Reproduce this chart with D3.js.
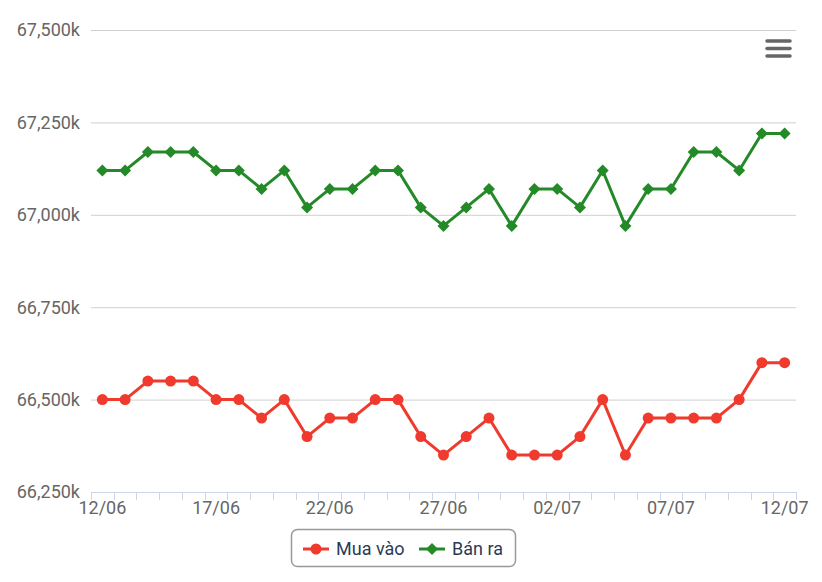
<!DOCTYPE html>
<html><head><meta charset="utf-8">
<script src="https://cdn.jsdelivr.net/npm/d3@7"></script>
<style>body{margin:0;background:#fff;font-family:Roboto,"Noto Sans",sans-serif;}</style>
</head><body><svg id="c" width="822" height="582"></svg>
<script>
const categories = ["12/06","13/06","14/06","15/06","16/06","17/06","18/06","19/06","20/06","21/06","22/06","23/06","24/06","25/06","26/06","27/06","28/06","29/06","30/06","01/07","02/07","03/07","04/07","05/07","06/07","07/07","08/07","09/07","10/07","11/07","12/07"];
const muaVao = [66500,66500,66550,66550,66550,66500,66500,66450,66500,66400,66450,66450,66500,66500,66400,66350,66400,66450,66350,66350,66350,66400,66500,66350,66450,66450,66450,66450,66500,66600,66600];
const banRa = [67120,67120,67170,67170,67170,67120,67120,67070,67120,67020,67070,67070,67120,67120,67020,66970,67020,67070,66970,67070,67070,67020,67120,66970,67070,67070,67170,67170,67120,67220,67220];
const yTicks = [66250,66500,66750,67000,67250,67500];
const seriesNames = ["Mua vào","Bán ra"];
const colors = ["#ef3a2d","#248a28"];

const svg = d3.select("#c");
const L = 91, R = 796, T = 30, B = 492;
const x = d3.scaleBand().domain(categories).range([L, R]);
const y = d3.scaleLinear().domain([66250, 67500]).range([B, T]);
const cx = d => x(d) + x.bandwidth()/2;

// gridlines
svg.append("g").selectAll("line").data(yTicks.slice(1)).join("line")
  .attr("x1", L).attr("x2", R).attr("y1", d => y(d)+0.5).attr("y2", d => y(d)+0.5)
  .attr("stroke", "#d0d0d0").attr("stroke-width", 1);

// y labels
svg.append("g").selectAll("text").data(yTicks).join("text")
  .attr("x", 80).attr("y", d => y(d)).attr("dy", "0.35em").attr("text-anchor", "end")
  .attr("font-size", 18).attr("fill", "#666")
  .text(d => d3.format(",")(d) + "k");

// x axis
const xa = svg.append("g");
xa.append("line").attr("x1", L).attr("x2", R).attr("y1", B+0.5).attr("y2", B+0.5).attr("stroke", "#ccd6eb");
const bounds = categories.map(c => x(c)).concat([R]);
xa.selectAll("line.t").data(bounds).join("line").attr("class","t")
  .attr("x1", d => Math.round(d)+0.5).attr("x2", d => Math.round(d)+0.5)
  .attr("y1", B).attr("y2", B+8).attr("stroke", "#ccd6eb");
xa.selectAll("text").data(categories.filter((c,i) => i % 5 === 0)).join("text")
  .attr("x", d => cx(d)).attr("y", 514).attr("text-anchor", "middle")
  .attr("font-size", 18).attr("fill", "#666").text(d => d);

// series
const data = [muaVao, banRa];
data.forEach((vals, si) => {
  const g = svg.append("g");
  g.append("path").datum(vals)
    .attr("d", d3.line().x((d,i) => cx(categories[i])).y(d => y(d)))
    .attr("fill", "none").attr("stroke", colors[si]).attr("stroke-width", 3).attr("stroke-linejoin","round");
  if (si === 0) {
    g.selectAll("circle").data(vals).join("circle")
      .attr("cx", (d,i) => cx(categories[i])).attr("cy", d => y(d)).attr("r", 5.5).attr("fill", colors[si]);
  } else {
    g.selectAll("path.m").data(vals).join("path").attr("class","m")
      .attr("transform", (d,i) => `translate(${cx(categories[i])},${y(d)})`)
      .attr("d", "M0,-6L6,0L0,6L-6,0Z").attr("fill", colors[si]);
  }
});

// legend
const lg = svg.append("g");
lg.append("rect").attr("x", 291.5).attr("y", 529.5).attr("width", 224).attr("height", 37).attr("rx", 6)
  .attr("fill", "#fff").attr("stroke", "#999").attr("stroke-width", 1.5);
const items = [{x:303, tx:336}, {x:419, tx:452}];
items.forEach((it, i) => {
  lg.append("line").attr("x1", it.x).attr("x2", it.x+26).attr("y1", 549).attr("y2", 549)
    .attr("stroke", colors[i]).attr("stroke-width", 3);
  if (i === 0) lg.append("circle").attr("cx", it.x+13).attr("cy", 549).attr("r", 5.5).attr("fill", colors[i]);
  else lg.append("path").attr("transform", `translate(${it.x+13},549)`).attr("d","M0,-6L6,0L0,6L-6,0Z").attr("fill", colors[i]);
  lg.append("text").attr("x", it.tx).attr("y", 549).attr("dy","0.35em").attr("font-size", 18)
    .attr("fill", "#2a3b55").text(seriesNames[i]);
});

// menu icon
const mi = svg.append("g");
[41, 48.5, 56].forEach(yy => mi.append("line").attr("x1", 767).attr("x2", 790).attr("y1", yy).attr("y2", yy)
  .attr("stroke", "#666").attr("stroke-width", 3.5).attr("stroke-linecap", "round"));
</script></body></html>
